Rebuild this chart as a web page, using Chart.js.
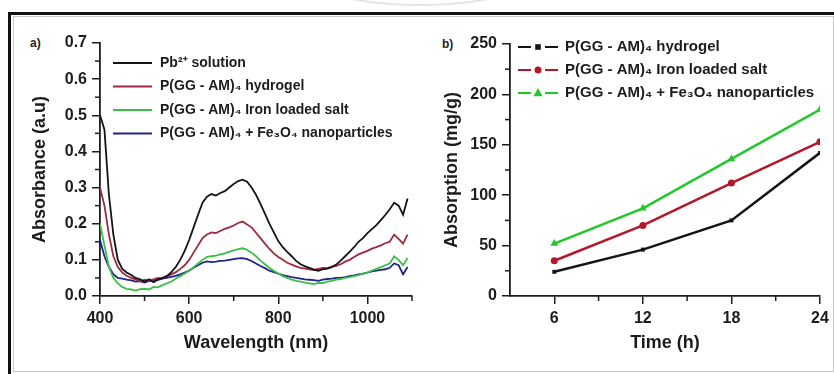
<!DOCTYPE html>
<html>
<head>
<meta charset="utf-8">
<script src="https://cdn.jsdelivr.net/npm/chart.js@4.4.1/dist/chart.umd.min.js"></script>
<style>
  body { margin: 0; background: #fff; width: 834px; height: 374px; position: relative; overflow: hidden; font-family: "Liberation Sans", Arial, sans-serif; }
  .frame-black-top { position: absolute; left: 8px; top: 12px; width: 826px; height: 3px; background: #111; }
  .frame-black-left { position: absolute; left: 8px; top: 12px; width: 3px; height: 362px; background: #111; }
  .frame-inner { position: absolute; left: 13px; top: 16px; width: 819px; height: 354px; border: 1px solid #c8c8c8; }
  .arc { position: absolute; left: 300px; top: -62px; width: 236px; height: 64px; border: 2px solid #e4e4e4; border-radius: 50%; }
  .panel-tag { position: absolute; font-weight: bold; font-size: 12px; color: #222; }
  canvas { position: absolute; top: 0; }
</style>
</head>
<body>
<div class="arc"></div>
<div class="frame-inner"></div>
<div class="frame-black-top"></div>
<div class="frame-black-left"></div>
<div class="panel-tag" style="left:30px; top:36px;">a)</div>
<div class="panel-tag" style="left:442px; top:37px;">b)</div>
<canvas id="chartA" width="410" height="374" style="left:10px;"></canvas>
<canvas id="chartB" width="414" height="374" style="left:420px;"></canvas>

<script>
// ---- datos panel a) espectros UV-vis ----
const wavelengths = [400, 410, 420, 430, 440, 450, 460, 470, 480, 490,
    500, 510, 520, 530, 540, 550, 560, 570, 580, 590,
    600, 610, 620, 630, 640, 650, 660, 670, 680, 690,
    700, 710, 720, 730, 740, 750, 760, 770, 780, 790,
    800, 810, 820, 830, 840, 850, 860, 870, 880, 890,
    900, 910, 920, 930, 940, 950, 960, 970, 980, 990,
    1000, 1010, 1020, 1030, 1040, 1050, 1060, 1070, 1080, 1090];

const pbSolution = [0.50, 0.46, 0.28, 0.17, 0.10, 0.075, 0.065, 0.058, 0.05, 0.046,
    0.040, 0.046, 0.038, 0.045, 0.050, 0.055, 0.066, 0.080, 0.100, 0.125,
    0.155, 0.190, 0.225, 0.258, 0.275, 0.282, 0.278, 0.285, 0.290, 0.300,
    0.310, 0.318, 0.322, 0.316, 0.300, 0.280, 0.255, 0.228, 0.200, 0.176,
    0.152, 0.135, 0.122, 0.110, 0.097, 0.088, 0.082, 0.078, 0.073, 0.070,
    0.074, 0.076, 0.080, 0.087, 0.098, 0.110, 0.122, 0.135, 0.150, 0.160,
    0.174, 0.185, 0.196, 0.210, 0.224, 0.240, 0.258, 0.250, 0.225, 0.270];

const hydrogel = [0.30, 0.25, 0.17, 0.11, 0.08, 0.065, 0.056, 0.050, 0.046, 0.040,
    0.045, 0.041, 0.046, 0.050, 0.049, 0.055, 0.060, 0.066, 0.075, 0.085,
    0.100, 0.120, 0.140, 0.160, 0.170, 0.176, 0.174, 0.180, 0.186, 0.190,
    0.195, 0.202, 0.206, 0.198, 0.190, 0.175, 0.160, 0.145, 0.130, 0.118,
    0.108, 0.100, 0.092, 0.087, 0.082, 0.078, 0.076, 0.074, 0.072, 0.075,
    0.078, 0.077, 0.081, 0.083, 0.088, 0.095, 0.100, 0.108, 0.115, 0.120,
    0.125, 0.131, 0.135, 0.140, 0.146, 0.150, 0.170, 0.158, 0.145, 0.170];

const ironSalt = [0.20, 0.14, 0.08, 0.05, 0.035, 0.025, 0.020, 0.018, 0.015, 0.019,
    0.020, 0.018, 0.025, 0.024, 0.030, 0.035, 0.040, 0.048, 0.055, 0.062,
    0.070, 0.080, 0.090, 0.100, 0.108, 0.110, 0.112, 0.115, 0.118, 0.122,
    0.126, 0.130, 0.132, 0.128, 0.120, 0.110, 0.098, 0.088, 0.078, 0.070,
    0.062, 0.055, 0.050, 0.045, 0.042, 0.040, 0.037, 0.035, 0.033, 0.036,
    0.036, 0.040, 0.042, 0.045, 0.047, 0.050, 0.052, 0.055, 0.058, 0.062,
    0.065, 0.070, 0.075, 0.080, 0.085, 0.090, 0.110, 0.100, 0.085, 0.105];

const fe3o4 = [0.155, 0.11, 0.08, 0.06, 0.05, 0.048, 0.045, 0.043, 0.040, 0.041,
    0.037, 0.042, 0.044, 0.045, 0.048, 0.050, 0.053, 0.056, 0.060, 0.065,
    0.070, 0.078, 0.085, 0.092, 0.096, 0.094, 0.095, 0.097, 0.098, 0.100,
    0.102, 0.104, 0.105, 0.102, 0.097, 0.090, 0.083, 0.077, 0.070, 0.066,
    0.062, 0.058, 0.055, 0.052, 0.050, 0.048, 0.046, 0.045, 0.044, 0.042,
    0.045, 0.047, 0.048, 0.050, 0.050, 0.052, 0.055, 0.057, 0.060, 0.062,
    0.065, 0.068, 0.070, 0.072, 0.074, 0.078, 0.090, 0.085, 0.060, 0.080];

const aXTicks = [400, 600, 800, 1000];
const aXMinor = [500, 700, 900, 1100];
const aYTicks = [0, 0.1, 0.2, 0.3, 0.4, 0.5, 0.6, 0.7];
const aYMinor = [0.05, 0.15, 0.25, 0.35, 0.45, 0.55, 0.65];

// ---- datos panel b) absorcion vs tiempo ----
const hours = [6, 12, 18, 24];
const absHydrogel = [24, 46, 75, 142];
const absIronSalt = [35, 70, 112, 153];
const absFe3o4 = [52, 87, 136, 185];

const bXTicks = [6, 12, 18, 24];
const bXMinor = [9, 15, 21];
const bYTicks = [0, 50, 100, 150, 200, 250];
const bYMinor = [25, 75, 125, 175, 225];

const FONT = '"Liberation Sans", Arial, sans-serif';
const INK = '#1c1c1c';

// ticks menores dibujados con las escalas del grafico
const minorTicksPlugin = {
    id: 'minorTicks',
    afterDraw(chart, args, opts) {
        const ctx = chart.ctx;
        const xs = chart.scales.x;
        const ys = chart.scales.y;
        ctx.save();
        ctx.strokeStyle = INK;
        ctx.lineWidth = 1.5;
        (opts.x || []).forEach(v => {
            const px = xs.getPixelForValue(v);
            ctx.beginPath();
            ctx.moveTo(px, xs.top);
            ctx.lineTo(px, xs.top + 5);
            ctx.stroke();
        });
        (opts.y || []).forEach(v => {
            const py = ys.getPixelForValue(v);
            ctx.beginPath();
            ctx.moveTo(ys.right - 5, py);
            ctx.lineTo(ys.right, py);
            ctx.stroke();
        });
        ctx.restore();
    }
};

function drawMarker(ctx, style, x, y, r, color) {
    ctx.fillStyle = color;
    ctx.beginPath();
    if (style === 'rect') {
        ctx.rect(x - r, y - r, 2 * r, 2 * r);
    } else if (style === 'triangle') {
        ctx.moveTo(x, y - r * 1.1);
        ctx.lineTo(x + r, y + r * 0.7);
        ctx.lineTo(x - r, y + r * 0.7);
        ctx.closePath();
    } else {
        ctx.arc(x, y, r, 0, Math.PI * 2);
    }
    ctx.fill();
}

// leyenda dentro del area del grafico
const insideLegendPlugin = {
    id: 'insideLegend',
    afterDraw(chart, args, opts) {
        const ctx = chart.ctx;
        const area = chart.chartArea;
        ctx.save();
        ctx.font = 'bold ' + opts.fontSize + 'px ' + FONT;
        ctx.textBaseline = 'middle';
        ctx.fillStyle = INK;
        chart.data.datasets.forEach((ds, i) => {
            const y = area.top + opts.dy + i * opts.rowH;
            const x0 = area.left + opts.dx;
            ctx.strokeStyle = ds.borderColor;
            ctx.lineWidth = 2;
            if (opts.withMarker) {
                ctx.beginPath();
                ctx.moveTo(x0, y); ctx.lineTo(x0 + 13, y);
                ctx.moveTo(x0 + opts.lineLen - 13, y); ctx.lineTo(x0 + opts.lineLen, y);
                ctx.stroke();
                drawMarker(ctx, ds.pointStyle, x0 + opts.lineLen / 2, y, ds.pointRadius, ds.pointBackgroundColor);
            } else {
                ctx.beginPath();
                ctx.moveTo(x0, y); ctx.lineTo(x0 + opts.lineLen, y);
                ctx.stroke();
            }
            ctx.fillStyle = INK;
            ctx.fillText(ds.label, x0 + opts.lineLen + opts.gap, y);
        });
        ctx.restore();
    }
};

function axisBase(ticksArr, fmt) {
    return {
        type: 'linear',
        afterBuildTicks: (scale) => { scale.ticks = ticksArr.map(v => ({ value: v })); },
        grid: { drawOnChartArea: false, drawTicks: true, tickLength: 8, color: INK, lineWidth: 1.5 },
        border: { display: true, color: INK, width: 1.8 },
        ticks: {
            color: INK,
            padding: 5,
            maxRotation: 0,
            autoSkip: false,
            font: { family: FONT, size: 16, weight: 'bold' },
            callback: fmt
        }
    };
}

document.addEventListener('DOMContentLoaded', () => {
    console.log('[Figura] dibujando paneles...');

    // 1. Panel a)
    const specSets = [
        { label: 'Pb\u00B2\u207A solution', data: pbSolution, color: '#141414' },
        { label: 'P(GG - AM)\u2084 hydrogel', data: hydrogel, color: '#9e2a3e' },
        { label: 'P(GG - AM)\u2084 Iron loaded salt', data: ironSalt, color: '#3cbf46' },
        { label: 'P(GG - AM)\u2084 + Fe\u2083O\u2084 nanoparticles', data: fe3o4, color: '#22238a' }
    ];

    const xA = axisBase(aXTicks, v => v);
    xA.min = 400; xA.max = 1100;
    xA.afterFit = (s) => { s.height = 70; };
    xA.title = { display: true, text: 'Wavelength (nm)', color: INK, font: { family: FONT, size: 18, weight: 'bold' }, padding: { top: 0, bottom: 12 } };

    const yA = axisBase(aYTicks, v => v.toFixed(1));
    yA.min = 0; yA.max = 0.7;
    yA.afterFit = (s) => { s.width = 90; };
    yA.title = { display: true, text: 'Absorbance (a.u)', color: INK, font: { family: FONT, size: 18, weight: 'bold' }, padding: { top: 19, bottom: 0 } };

    new Chart(document.getElementById('chartA'), {
        type: 'line',
        data: {
            datasets: specSets.map(s => ({
                label: s.label,
                data: wavelengths.map((w, i) => ({ x: w, y: s.data[i] })),
                borderColor: s.color,
                borderWidth: 1.8,
                pointRadius: 0,
                tension: 0
            })).reverse().reverse()
        },
        options: {
            responsive: false,
            animation: false,
            layout: { padding: { top: 43, right: 8, bottom: 8, left: 0 } },
            scales: { x: xA, y: yA },
            plugins: {
                legend: { display: false },
                tooltip: { enabled: false },
                minorTicks: { x: aXMinor, y: aYMinor },
                insideLegend: { dx: 13, dy: 20, rowH: 23.5, lineLen: 39, gap: 8, fontSize: 14, withMarker: false }
            }
        },
        plugins: [minorTicksPlugin, insideLegendPlugin]
    });

    // 2. Panel b)
    const absSets = [
        { label: 'P(GG - AM)\u2084 hydrogel', data: absHydrogel, color: '#141414', style: 'rect', r: 2.8 },
        { label: 'P(GG - AM)\u2084 Iron loaded salt', data: absIronSalt, color: '#b5172a', style: 'circle', r: 3.5 },
        { label: 'P(GG - AM)\u2084 + Fe\u2083O\u2084 nanoparticles', data: absFe3o4, color: '#22c82a', style: 'triangle', r: 4.5 }
    ];

    const xB = axisBase(bXTicks, v => v);
    xB.min = 3; xB.max = 24;
    xB.afterFit = (s) => { s.height = 70; };
    xB.title = { display: true, text: 'Time (h)', color: INK, font: { family: FONT, size: 18, weight: 'bold' }, padding: { top: 0, bottom: 12 } };

    const yB = axisBase(bYTicks, v => v);
    yB.min = 0; yB.max = 250;
    yB.afterFit = (s) => { s.width = 90; };
    yB.title = { display: true, text: 'Absorption (mg/g)', color: INK, font: { family: FONT, size: 18, weight: 'bold' }, padding: { top: 21, bottom: 0 } };

    new Chart(document.getElementById('chartB'), {
        type: 'line',
        data: {
            datasets: absSets.map(s => ({
                label: s.label,
                data: hours.map((h, i) => ({ x: h, y: s.data[i] })),
                borderColor: s.color,
                borderWidth: 2.5,
                pointStyle: s.style,
                pointRadius: s.r,
                pointBackgroundColor: s.color,
                pointBorderColor: s.color,
                pointBorderWidth: 0,
                tension: 0
            }))
        },
        options: {
            responsive: false,
            animation: false,
            layout: { padding: { top: 44, right: 14, bottom: 8, left: 0 } },
            scales: { x: xB, y: yB },
            plugins: {
                legend: { display: false },
                tooltip: { enabled: false },
                minorTicks: { x: bXMinor, y: bYMinor },
                insideLegend: { dx: 8, dy: 3, rowH: 23, lineLen: 40, gap: 7, fontSize: 15, withMarker: true }
            }
        },
        plugins: [minorTicksPlugin, insideLegendPlugin]
    });

    console.log('[Figura] listo');
});
</script>
</body>
</html>
